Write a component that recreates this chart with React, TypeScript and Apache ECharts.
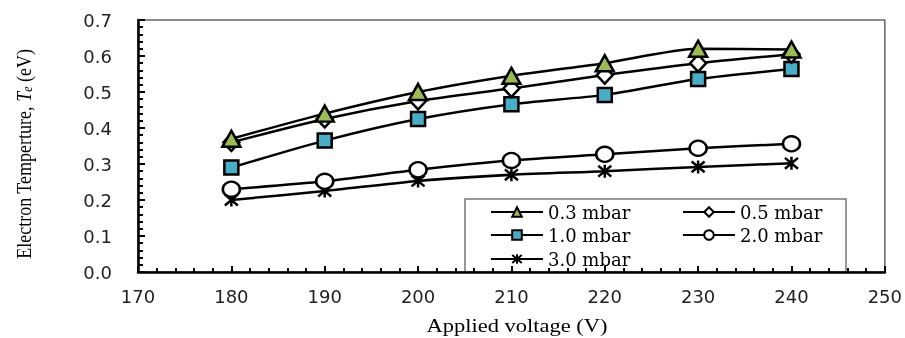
import React, { useEffect, useRef } from "react";
import * as echarts from "echarts";

const voltages = [180, 190, 200, 210, 220, 230, 240];
const te03 = [0.37, 0.44, 0.5, 0.545, 0.58, 0.62, 0.618];
const te05 = [0.36, 0.425, 0.475, 0.51, 0.547, 0.58, 0.605];
const te10 = [0.29, 0.365, 0.425, 0.466, 0.492, 0.536, 0.564];
const te20 = [0.23, 0.252, 0.284, 0.31, 0.327, 0.344, 0.356];
const te30 = [0.2, 0.225, 0.253, 0.27, 0.28, 0.292, 0.302];
const seriesNames = ["0.3 mbar", "0.5 mbar", "1.0 mbar", "2.0 mbar", "3.0 mbar"];
const xTitle = "Applied voltage (V)";

const ASTERISK = "path://M0,1L12,11M12,1L0,11M6,0L6,12";

export default function App() {
  const ref = useRef<HTMLDivElement>(null);
  useEffect(() => {
    if (!ref.current) return;
    const chart = echarts.init(ref.current, null, { renderer: "svg" });
    const pair = (ys: number[]) => voltages.map((v, i) => [v, ys[i]]);
    const legendText = { fontFamily: "DejaVu Serif", fontSize: 18, color: "#000" };
    const mkLegend = (name: string, left: number, cy: number) => ({
      data: [name],
      left,
      top: cy - 9,
      padding: 0,
      itemWidth: 52,
      itemHeight: 12,
      itemGap: 0,
      selectedMode: false,
      textStyle: legendText,
    });
    const base = {
      type: "line",
      smooth: 0.25,
      lineStyle: { color: "#000", width: 2.5 },
      symbolKeepAspect: true,
    };
    chart.setOption({
      animation: false,
      grid: {
        left: 138,
        right: 20,
        top: 20,
        bottom: 66,
        show: true,
        borderColor: "#666",
        borderWidth: 1.5,
      },
      legend: [
        mkLegend(seriesNames[0], 490, 212),
        mkLegend(seriesNames[2], 490, 235),
        mkLegend(seriesNames[4], 490, 259),
        mkLegend(seriesNames[1], 682, 212),
        mkLegend(seriesNames[3], 682, 235),
      ],
      xAxis: {
        type: "value",
        min: 170,
        max: 250,
        interval: 10,
        axisLine: { lineStyle: { color: "#000", width: 2.5 } },
        axisTick: { inside: true, length: 6, lineStyle: { color: "#000", width: 2 } },
        minorTick: { show: true, splitNumber: 5, length: 4, lineStyle: { color: "#000", width: 2 } },
        splitLine: { show: false },
        axisLabel: { fontFamily: "DejaVu Sans", fontSize: 18, color: "#222", margin: 15 },
        z: 10,
      },
      yAxis: {
        type: "value",
        min: 0,
        max: 0.7,
        interval: 0.1,
        axisLine: { lineStyle: { color: "#000", width: 2.5 } },
        axisTick: { inside: true, length: 7, lineStyle: { color: "#000", width: 2 } },
        minorTick: { show: true, splitNumber: 5, length: 5, lineStyle: { color: "#000", width: 2 } },
        splitLine: { show: false },
        axisLabel: {
          fontFamily: "DejaVu Sans",
          fontSize: 18,
          color: "#222",
          margin: 26,
          formatter: (v: number) => v.toFixed(1),
        },
      },
      graphic: [
        {
          type: "rect",
          shape: { x: 465, y: 199, width: 381, height: 73 },
          style: { fill: "none", stroke: "#777", lineWidth: 1.5 },
          z: 1,
        },
        {
          type: "text",
          x: 517,
          y: 326,
          scaleX: 1.25,
          style: {
            text: xTitle,
            align: "center",
            verticalAlign: "middle",
            fontFamily: "Liberation Serif",
            fontSize: 18,
            fill: "#000",
          },
        },
        {
          type: "text",
          x: 23,
          y: 154,
          rotation: Math.PI / 2,
          scaleY: 1.2,
          style: {
            text: "{a|Electron Temperture, }{i|T}{s|e}{a| (eV)}",
            align: "center",
            verticalAlign: "middle",
            rich: {
              a: { fontFamily: "Liberation Serif", fontSize: 18, color: "#000" },
              i: { fontFamily: "Liberation Serif", fontSize: 18, fontStyle: "italic", color: "#000" },
              s: {
                fontFamily: "Liberation Serif",
                fontSize: 12,
                fontStyle: "italic",
                color: "#000",
                verticalAlign: "bottom",
              },
            },
          },
        },
      ],
      series: [
        {
          ...base,
          name: seriesNames[4],
          data: pair(te30),
          symbol: ASTERISK,
          symbolSize: 13,
          itemStyle: { color: "#000", borderColor: "#000", borderWidth: 2.5 },
          z: 2,
        },
        {
          ...base,
          name: seriesNames[3],
          data: pair(te20),
          symbol: "circle",
          symbolSize: [17, 15],
          symbolKeepAspect: false,
          itemStyle: { color: "#fff", borderColor: "#000", borderWidth: 2.5 },
          z: 3,
        },
        {
          ...base,
          name: seriesNames[2],
          data: pair(te10),
          symbol: "rect",
          symbolSize: 14,
          itemStyle: { color: "#4BACC6", borderColor: "#000", borderWidth: 2.5 },
          z: 4,
        },
        {
          ...base,
          name: seriesNames[1],
          data: pair(te05),
          symbol: "diamond",
          symbolSize: [16, 17],
          symbolKeepAspect: false,
          itemStyle: { color: "#fff", borderColor: "#000", borderWidth: 2.5 },
          z: 5,
        },
        {
          ...base,
          name: seriesNames[0],
          data: pair(te03),
          symbol: "triangle",
          symbolSize: [18, 16],
          symbolKeepAspect: false,
          itemStyle: { color: "#9BBB59", borderColor: "#000", borderWidth: 2.5 },
          z: 6,
        },
      ],
    });
    return () => chart.dispose();
  }, []);
  return (
    <div
      ref={ref}
      style={{ position: "fixed", left: 0, top: 0, width: 905, height: 338 }}
    />
  );
}
